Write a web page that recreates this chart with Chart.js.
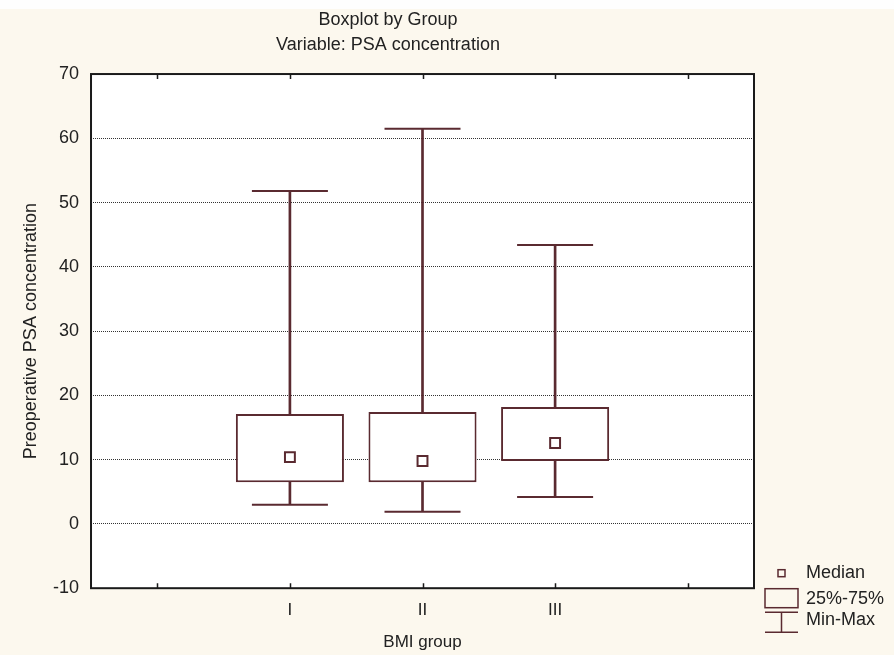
<!DOCTYPE html>
<html>
<head>
<meta charset="utf-8">
<title>Boxplot by Group</title>
<script src="https://cdn.jsdelivr.net/npm/chart.js@4.4.1/dist/chart.umd.min.js"></script>
<style>
  html, body { margin: 0; padding: 0; background: #fcf8ee; }
  #wrap { width: 894px; height: 655px; }
</style>
</head>
<body>
<div id="wrap"><canvas id="boxplot" width="894" height="655"></canvas></div>
<script>
// x slots: empty ones at both ends keep the spacing of the original plot
const categories = ['', 'I', 'II', 'III', ''];
const minValues = [null, 3.0, 1.9, 4.2, null];
const q1Values = [null, 6.5, 6.5, 9.8, null];
const medianValues = [null, 10.4, 9.8, 12.6, null];
const q3Values = [null, 17.1, 17.4, 18.2, null];
const maxValues = [null, 51.8, 61.5, 43.4, null];
const yTicks = [-10, 0, 10, 20, 30, 40, 50, 60, 70];
const legendLabels = ['Median', '25%-75%', 'Min-Max'];

const boxColor = '#5a2a30';
const textColor = '#222';
const fontFamily = '"Liberation Sans", Arial, sans-serif';

// [low, high] pairs for floating bars
function span(lo, hi) {
    return lo.map((v, i) => (v == null ? null : [v, hi[i]]));
}

// background, plot frame, inward ticks and the legend
const statFrame = {
    id: 'statFrame',
    beforeDraw(chart) {
        const { ctx, chartArea: a } = chart;
        ctx.save();
        ctx.fillStyle = '#fcf8ee';
        ctx.fillRect(0, 0, chart.width, chart.height);
        ctx.fillStyle = '#fefefe';
        ctx.fillRect(0, 0, chart.width, 9);
        ctx.fillStyle = '#ffffff';
        ctx.fillRect(a.left, a.top, a.right - a.left, a.bottom - a.top);
        ctx.restore();
    },
    afterDatasetsDraw(chart) {
        const { ctx, chartArea: a } = chart;
        const xScale = chart.scales.x;
        ctx.save();
        ctx.strokeStyle = '#1a1a1a';
        ctx.lineWidth = 2;
        ctx.strokeRect(a.left, a.top, a.right - a.left, a.bottom - a.top);
        ctx.lineWidth = 1.5;
        categories.forEach((c, i) => {
            const x = Math.round(xScale.getPixelForValue(i)) + 0.5;
            ctx.beginPath();
            ctx.moveTo(x, a.top);
            ctx.lineTo(x, a.top + 5);
            ctx.moveTo(x, a.bottom);
            ctx.lineTo(x, a.bottom - 5);
            ctx.stroke();
        });
        ctx.restore();
    },
    afterDraw(chart) {
        const { ctx, chartArea: a } = chart;
        const x0 = a.right + 11;
        const cx = x0 + 16.5;
        const tx = a.right + 52;
        const icons = [a.bottom - 15, a.bottom + 10, a.bottom + 34];
        const texts = [a.bottom - 15, a.bottom + 11, a.bottom + 32];
        ctx.save();
        ctx.strokeStyle = boxColor;
        ctx.lineWidth = 1.5;
        // median
        ctx.strokeRect(cx - 3.5, icons[0] - 3.5, 7, 7);
        // box
        ctx.strokeRect(x0, icons[1] - 9.5, 33, 19);
        // whisker
        ctx.beginPath();
        ctx.moveTo(x0, icons[2] - 10);
        ctx.lineTo(x0 + 33, icons[2] - 10);
        ctx.moveTo(cx, icons[2] - 10);
        ctx.lineTo(cx, icons[2] + 10);
        ctx.moveTo(x0, icons[2] + 10);
        ctx.lineTo(x0 + 33, icons[2] + 10);
        ctx.stroke();
        ctx.fillStyle = textColor;
        ctx.font = '18px ' + fontFamily;
        ctx.textBaseline = 'middle';
        legendLabels.forEach((t, i) => ctx.fillText(t, tx, texts[i]));
        ctx.restore();
    }
};

new Chart(document.getElementById('boxplot'), {
    data: {
        labels: categories,
        datasets: [{
            type: 'line',
            label: 'Median',
            data: medianValues,
            showLine: false,
            pointStyle: 'rect',
            pointRadius: 7,
            pointBorderWidth: 2,
            pointBorderColor: boxColor,
            pointBackgroundColor: '#ffffff',
            order: 0
        }, {
            type: 'line',
            label: 'Max',
            data: maxValues,
            showLine: false,
            pointStyle: 'line',
            pointRadius: 38,
            pointBorderWidth: 2,
            pointBorderColor: boxColor,
            order: 1
        }, {
            type: 'line',
            label: 'Min',
            data: minValues,
            showLine: false,
            pointStyle: 'line',
            pointRadius: 38,
            pointBorderWidth: 2,
            pointBorderColor: boxColor,
            order: 1
        }, {
            type: 'bar',
            label: '25%-75%',
            data: span(q1Values, q3Values),
            grouped: false,
            backgroundColor: '#ffffff',
            borderColor: boxColor,
            borderWidth: 2,
            borderSkipped: false,
            categoryPercentage: 1,
            barPercentage: 0.815,
            order: 2
        }, {
            type: 'bar',
            label: 'Upper whisker',
            data: span(q3Values, maxValues),
            grouped: false,
            backgroundColor: boxColor,
            barThickness: 2,
            order: 3
        }, {
            type: 'bar',
            label: 'Lower whisker',
            data: span(minValues, q1Values),
            grouped: false,
            backgroundColor: boxColor,
            barThickness: 2,
            order: 3
        }]
    },
    options: {
        responsive: false,
        animation: false,
        layout: { padding: { left: 22, right: 140, top: 0, bottom: 0 } },
        plugins: {
            legend: { display: false },
            tooltip: { enabled: false },
            title: {
                display: true,
                text: ['Boxplot by Group', 'Variable: PSA concentration'],
                color: textColor,
                font: { family: fontFamily, size: 18, weight: 'normal', lineHeight: 1.39 },
                padding: { top: 8, bottom: 16 }
            }
        },
        scales: {
            x: {
                type: 'category',
                offset: true,
                grid: { display: false, drawTicks: false },
                border: { display: false },
                ticks: { color: textColor, font: { family: fontFamily, size: 17 }, padding: 12 },
                title: {
                    display: true,
                    text: 'BMI group',
                    color: textColor,
                    font: { family: fontFamily, size: 17 },
                    padding: { top: 0, bottom: 2 }
                }
            },
            y: {
                min: yTicks[0],
                max: yTicks[yTicks.length - 1],
                afterBuildTicks(scale) {
                    scale.ticks = yTicks.map(v => ({ value: v }));
                },
                grid: { color: '#333', lineWidth: 1, drawTicks: false },
                border: { display: false, dash: [1, 1] },
                ticks: { color: textColor, font: { family: fontFamily, size: 18 }, padding: 12 },
                title: {
                    display: true,
                    text: 'Preoperative PSA concentration',
                    color: textColor,
                    font: { family: fontFamily, size: 18, lineHeight: 1 },
                    padding: { top: 0, bottom: 1 }
                }
            }
        }
    },
    plugins: [statFrame]
});
</script>
</body>
</html>
